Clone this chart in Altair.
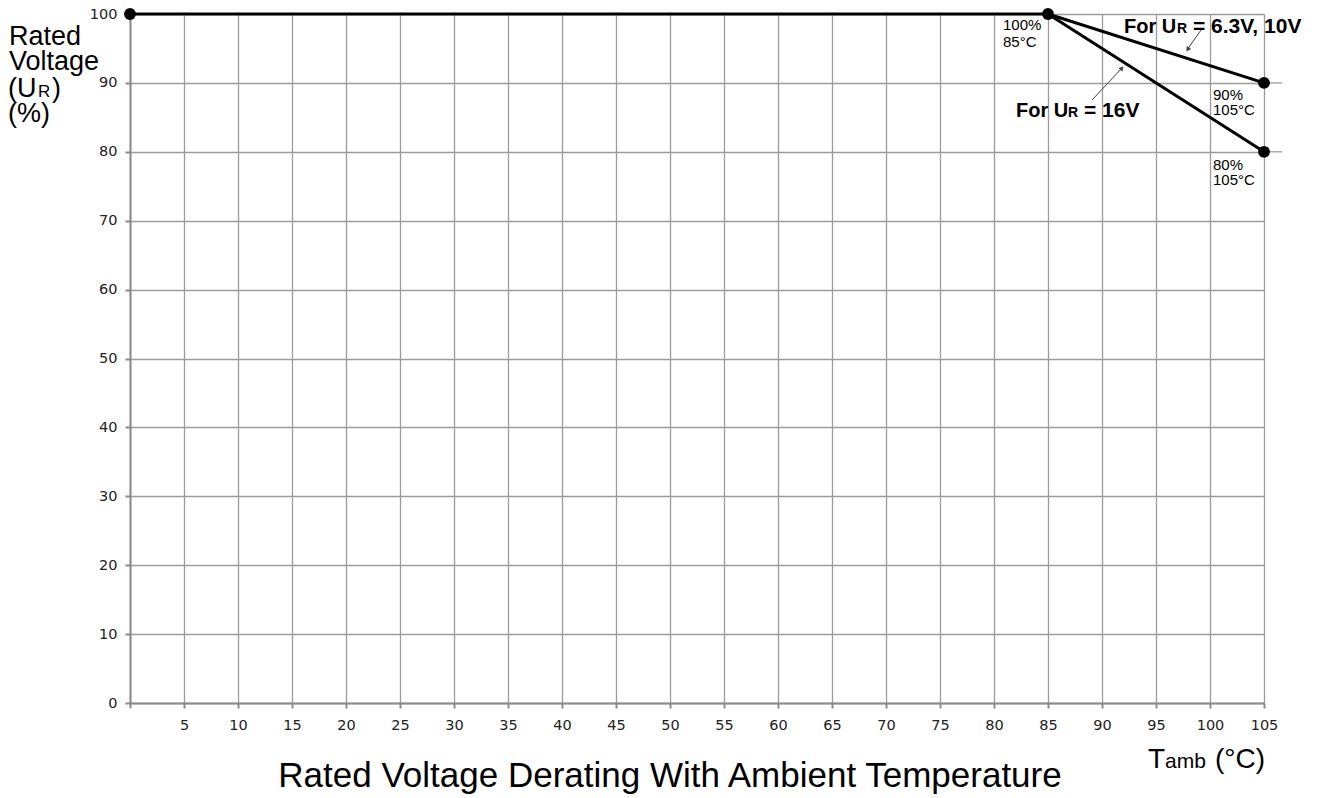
import altair as alt
import pandas as pd

# ---- data ----
flat_temp = [0, 85]
flat_volt = [100, 100]
slope_temp = [85, 105]
volt_63_10 = [100, 90]
volt_16 = [100, 80]
point_temp = [0, 85, 105, 105]
point_volt = [100, 100, 90, 80]
x_tick_values = [0, 5, 10, 15, 20, 25, 30, 35, 40, 45, 50, 55, 60, 65, 70, 75, 80, 85, 90, 95, 100, 105]
y_tick_values = [0, 10, 20, 30, 40, 50, 60, 70, 80, 90, 100]
ext_volt = [90, 80]

W, H = 1134, 689
GRID = "#9c9c9c"
AX = "#8a8a8a"
SANS = "Liberation Sans"

lines_df = pd.concat([
    pd.DataFrame({"temp": flat_temp, "volt": flat_volt, "seg": "flat"}),
    pd.DataFrame({"temp": slope_temp, "volt": volt_63_10, "seg": "6.3V, 10V"}),
    pd.DataFrame({"temp": slope_temp, "volt": volt_16, "seg": "16V"}),
])
points_df = pd.DataFrame({"temp": point_temp, "volt": point_volt})

x_enc = alt.X(
    "temp:Q",
    scale=alt.Scale(domain=[0, 105], nice=False, zero=False),
    axis=alt.Axis(values=x_tick_values, title=None, grid=True,
                  labelExpr="datum.value == 0 ? '' : datum.label",
                  labelPadding=10, labelFlush=False, labelOverlap=False),
)
y_enc = alt.Y(
    "volt:Q",
    scale=alt.Scale(domain=[0, 100], nice=False),
    axis=alt.Axis(values=y_tick_values, title=None, grid=True,
                  labelPadding=8, labelFlush=False, labelOverlap=False),
)

lines = alt.Chart(lines_df).mark_line(color="black", strokeWidth=3).encode(
    x=x_enc, y=y_enc, detail="seg:N"
)
points = alt.Chart(points_df).mark_circle(size=140, color="black", opacity=1).encode(
    x="temp:Q", y="volt:Q"
)
ext = alt.Chart(pd.DataFrame({"volt": ext_volt})).mark_rule(color=GRID, strokeWidth=1.3).encode(
    x=alt.value(W), x2=alt.value(W + 18), y="volt:Q"
)


def label(text, x, y, size, weight="normal", align="left", font=SANS, color="black"):
    return alt.Chart(pd.DataFrame({"t": [text]})).mark_text(
        align=align, baseline="alphabetic", font=font, fontSize=size,
        fontWeight=weight, color=color
    ).encode(x=alt.value(x), y=alt.value(y), text="t:N")


def arrow_line(x1, y1, x2, y2):
    return alt.Chart(pd.DataFrame({"a": [0]})).mark_rule(color="#444", strokeWidth=1).encode(
        x=alt.value(x1), y=alt.value(y1), x2=alt.value(x2), y2=alt.value(y2)
    )


def arrow_head(x, y, ang):
    return alt.Chart(pd.DataFrame({"a": [0]})).mark_point(
        shape="triangle-up", filled=True, size=28, angle=ang, color="#444", opacity=1
    ).encode(x=alt.value(x), y=alt.value(y))


annotations = [
    # point notes
    label("100%", 873, 16, 15), label("85°C", 873, 33, 15),
    label("90%", 1083, 86, 15), label("105°C", 1083, 101, 15),
    label("80%", 1083, 156, 15), label("105°C", 1083, 171, 15),
    # series notes
    label("For U", 994, 19, 20, "bold"), label("R", 1047, 19, 14, "bold"),
    label("= 6.3V, 10V", 1063, 19, 21, "bold"),
    label("For U", 886, 103, 20, "bold"), label("R", 938, 103, 14, "bold"),
    label("= 16V", 954, 103, 21, "bold"),
    arrow_line(1071, 16, 1057, 36), arrow_head(1057.7, 35.5, 214),
    arrow_line(962, 86, 992, 54), arrow_head(991.9, 54.2, 43),
    # y title
    label("Rated", -121, 31, 27), label("Voltage", -121, 56, 27),
    label("(U", -122, 83, 27), label("R", -92, 83, 17), label(")", -78, 83, 27),
    label("(%)", -122, 108, 27),
    # x title
    label("T", 1018, 754, 28), label("amb", 1035, 754, 21), label("(°C)", 1085, 754, 28),
    # chart title
    label("Rated Voltage Derating With Ambient Temperature", 540, 773, 35, align="center"),
]

chart = alt.layer(lines, ext, points, *annotations).properties(
    width=W, height=H,
    autosize="none",
    padding={"left": 122, "top": 6, "right": 40, "bottom": 96},
).configure_view(strokeWidth=0).configure_axis(
    domainColor=AX, domainWidth=2, gridColor=GRID, gridWidth=1.3,
    tickColor=AX, tickWidth=2, tickSize=5,
    labelFont="DejaVu Sans", labelFontSize=14.5, labelColor="#222",
)

chart.save("out.html", embed_options={"renderer": "svg", "actions": False})
